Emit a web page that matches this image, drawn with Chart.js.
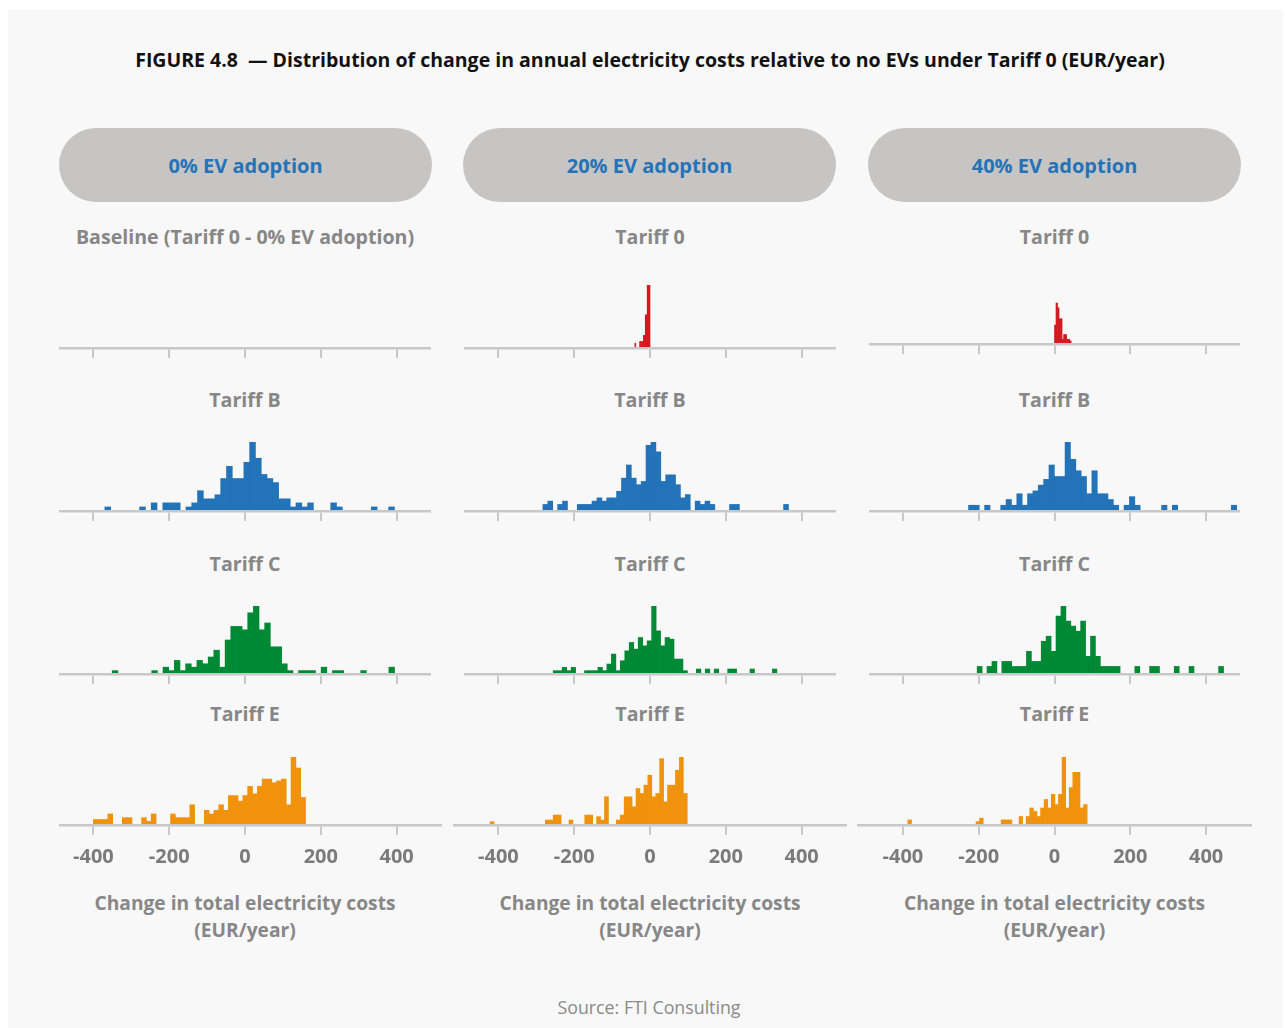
<!DOCTYPE html>
<html>
<head>
<meta charset="utf-8">
<script src="https://cdn.jsdelivr.net/npm/chart.js@4.4.1/dist/chart.umd.min.js"></script>
<style>
  html, body { margin: 0; padding: 0; background: #ffffff; }
  body { width: 1285px; height: 1028px; position: relative; overflow: hidden;
         font-family: "Open Sans", Lato, sans-serif; }
  #sheet { position: absolute; left: 8px; top: 10px; width: 1275px; height: 1018px; background: #f8f8f8; }
  .txt { position: absolute; transform: translate(-50%, -50%); white-space: nowrap; font-weight: 700; }
  #title { left: 650px; top: 59px; font-size: 19.5px; color: #111111; }
  .pill { position: absolute; top: 128px; width: 373px; height: 74px; border-radius: 37px; background: #c6c5c3;
          display: flex; align-items: center; justify-content: center; color: #2473b8; font-size: 20px; font-weight: 700; }
  .sub { font-size: 19.6px; color: #878787; }
  .axt { font-size: 19.2px; color: #878787; text-align: center; line-height: 27px; }
  #source { left: 649px; top: 1007px; font-size: 17.8px; color: #8a8a8a; font-weight: 400; }
  canvas { position: absolute; }
</style>
</head>
<body>
<div id="sheet"></div>
<div id="title" class="txt">FIGURE 4.8&nbsp; — Distribution of change in annual electricity costs relative to no EVs under Tariff 0 (EUR/year)</div>
<div id="source" class="txt">Source: FTI Consulting</div>
<script>
// ---- chart data ----
const xTicks = [-400, -200, 0, 200, 400];
const adoptionLevels = ['0% EV adoption', '20% EV adoption', '40% EV adoption'];
const tariffRows = ['Tariff 0', 'Tariff B', 'Tariff C', 'Tariff E'];
const baselineLabel = 'Baseline (Tariff 0 - 0% EV adoption)';
const axisTitle = ['Change in total electricity costs', '(EUR/year)'];

// Histogram bins: [first bin edge, bin width] in EUR/year, followed by the household count in each bin.
// Tariff 0
const bins0_20 = [-40, 2.5];
const counts0_20 = [3,0,0,0,0,4,4,4,4,8,8,21,21,40,40,40];
const bins0_40 = [0, 4];
const counts0_40 = [12,26,23,16,16,3,6,6,3,3,2];

// Tariff B
const binsB_0 = [-369.7, 15.28];
const countsB_0 = [1,0,0,0,0,0,1,0,2,0, 2,2,2,0,1,2,5,3,3,4, 8,11,8,8,12,17,13,9,8,7, 3,3,1,2,1,2,0,0,0,2, 1,0,0,0,0,0,1,0,0,1];
const binsB_20 = [-282.6, 12.96];
const countsB_20 = [2,3,0,2,3,0,0,2,2,2, 3,4,3,4,4,6,10,14,10,8, 9,20,21,18,9,11,11,8,4,5, 0,3,2,3,2,0,0,0,2,2, 0,0,0,0,0,0,0,0,0,2];
const binsB_40 = [-226.8, 14.15];
const countsB_40 = [2,2,0,2,0,0,2,4,2,6, 2,6,7,9,11,16,12,12,24,18, 14,12,6,14,6,6,4,2,0,2, 5,2,0,0,0,0,2,0,2,0, 0,0,0,0,0,0,0,0,0,2];

// Tariff C
const binsC_0 = [-350.4, 14.9];
const countsC_0 = [1,0,0,0,0,0,0,1,0,2, 1,4,1,3,2,4,3,5,7,2, 10,14,14,13,18,20,13,15,8,8, 3,1,0,1,1,1,0,2,0,1, 1,0,0,0,1,0,0,0,0,2];
const binsC_20 = [-255.3, 11.8];
const countsC_20 = [2,2,4,2,4,0,0,2,2,2, 4,2,6,12,2,8,14,19,15,22, 17,20,41,26,17,22,21,9,9,2, 0,0,3,0,3,0,3,0,0,3, 3,0,0,0,3,0,0,0,0,3];
const binsC_40 = [-204, 13];
const countsC_40 = [3,0,3,5,0,5,5,3,3,3, 9,5,5,13,15,9,23,27,21,19, 17,21,7,15,7,3,3,3,3,0, 0,0,3,0,0,3,3,0,0,0, 3,0,0,3,0,0,0,0,0,3];

// Tariff E
const binsE_0 = [-400, 12.72];
const countsE_0 = [3,3,3,6,0,0,4,4,0,0, 4,2,6,0,0,0,6,4,4,4, 11,0,0,8,6,8,11,8,16,16, 13,16,21,17,21,25,25,23,24,25, 11,37,31,15];
const binsE_20 = [-421.7, 10.4];
const countsE_20 = [2,0,0,0,0,0,0,0,0,0, 0,0,0,0,3,3,6,6,0,0, 3,0,0,0,6,6,0,5,3,17, 0,0,3,6,17,17,11,22,19,24, 30,17,19,40,14,24,24,33,41,19];
const binsE_40 = [-386.8, 9.46];
const countsE_40 = [3,0,0,0,0,0,0,0,0,0, 0,0,0,0,0,0,0,0,0,2, 4,0,0,0,0,0,3,3,3,0, 0,5,0,5,10,8,5,10,15,10, 18,12,18,40,10,22,31,31,10,12];

// ---- layout and styling ----
const rowColors = ['#d31a20', '#2273b8', '#008934', '#f0920c'];
const AXIS_GREY = '#c8c8c8';
const PX_PER_EUR = 0.379;
const colZero = [245, 650, 1054.5];          // pixel position of 0 EUR in each column
const rowBase = [348, 511, 674, 825];        // axis line of each row
const rowPlotH = [63, 69, 68, 68];           // height of the bar area in each row
const pillLeft = [59, 463, 868];
const subtitleY = [236, 399, 563, 713];

Chart.defaults.font.family = '"Open Sans", Lato, sans-serif';

const panels = [
  { row: 0, col: 0, bins: [0, 1], counts: [] },
  { row: 0, col: 1, bins: bins0_20, counts: counts0_20 },
  { row: 0, col: 2, bins: bins0_40, counts: counts0_40 },
  { row: 1, col: 0, bins: binsB_0, counts: countsB_0 },
  { row: 1, col: 1, bins: binsB_20, counts: countsB_20 },
  { row: 1, col: 2, bins: binsB_40, counts: countsB_40 },
  { row: 2, col: 0, bins: binsC_0, counts: countsC_0 },
  { row: 2, col: 1, bins: binsC_20, counts: countsC_20 },
  { row: 2, col: 2, bins: binsC_40, counts: countsC_40 },
  { row: 3, col: 0, bins: binsE_0, counts: countsE_0 },
  { row: 3, col: 1, bins: binsE_20, counts: countsE_20 },
  { row: 3, col: 2, bins: binsE_40, counts: countsE_40 }
];

// the Tariff 0 row shares one count scale
const tariff0Max = Math.max(...counts0_20, ...counts0_40);

function addText(cls, text, x, y) {
  const d = document.createElement('div');
  d.className = 'txt ' + cls;
  d.style.left = x + 'px';
  d.style.top = y + 'px';
  d.innerHTML = text;
  document.body.appendChild(d);
  return d;
}

// column headers and panel titles
adoptionLevels.forEach((label, c) => {
  const p = document.createElement('div');
  p.className = 'pill';
  p.style.left = pillLeft[c] + 'px';
  p.textContent = label;
  document.body.appendChild(p);
  tariffRows.forEach((t, r) => {
    addText('sub', (r === 0 && c === 0) ? baselineLabel : t, colZero[c], subtitleY[r]);
  });
  addText('axt', axisTitle[0] + '<br>' + axisTitle[1], colZero[c], 915.5);
});

panels.forEach(p => {
  const last = p.row === tariffRows.length - 1;
  let dom = [-490, 490];
  if (last) dom = p.col === 0 ? [-490, 520] : [-520, 520];
  const zero = colZero[p.col];
  const left = Math.round(zero + dom[0] * PX_PER_EUR);
  const right = Math.round(zero + dom[1] * PX_PER_EUR);
  const base = (p.row === 0 && p.col === 2) ? 344 : rowBase[p.row];
  const plotH = rowPlotH[p.row];
  const axisH = last ? 50 : 12;

  const cv = document.createElement('canvas');
  cv.width = right - left;
  cv.height = plotH + axisH;
  cv.style.left = left + 'px';
  cv.style.top = (base - plotH) + 'px';
  document.body.appendChild(cv);

  const [edge, width] = p.bins;
  const points = p.counts.map((n, i) => ({ x: edge + width * (i + 0.5), y: n }));
  const yMax = p.row === 0 ? tariff0Max : Math.max(...p.counts);

  new Chart(cv, {
    type: 'bar',
    data: {
      datasets: [{
        data: points,
        backgroundColor: rowColors[p.row],
        borderWidth: 0,
        barPercentage: 1,
        categoryPercentage: 1
      }]
    },
    options: {
      responsive: false,
      maintainAspectRatio: false,
      animation: false,
      events: [],
      layout: { padding: 0 },
      plugins: { legend: { display: false }, tooltip: { enabled: false } },
      scales: {
        x: {
          type: 'linear',
          offset: false,
          min: (left - zero) / PX_PER_EUR,
          max: (right - zero) / PX_PER_EUR,
          afterBuildTicks: axis => { axis.ticks = xTicks.map(v => ({ value: v })); },
          afterFit: axis => { axis.height = axisH; },
          grid: { display: true, offset: false, drawOnChartArea: false, drawTicks: true, tickLength: 10,
                  color: AXIS_GREY, lineWidth: 2 },
          border: { display: true, color: AXIS_GREY, width: 2.5, z: 1 },
          ticks: {
            display: last,
            autoSkip: false,
            maxRotation: 0,
            padding: 10,
            color: '#7b7b7b',
            font: { size: 20, weight: 'bold' },
            callback: v => String(v)
          }
        },
        y: { display: false, min: 0, max: yMax }
      }
    }
  });
});
</script>
</body>
</html>
